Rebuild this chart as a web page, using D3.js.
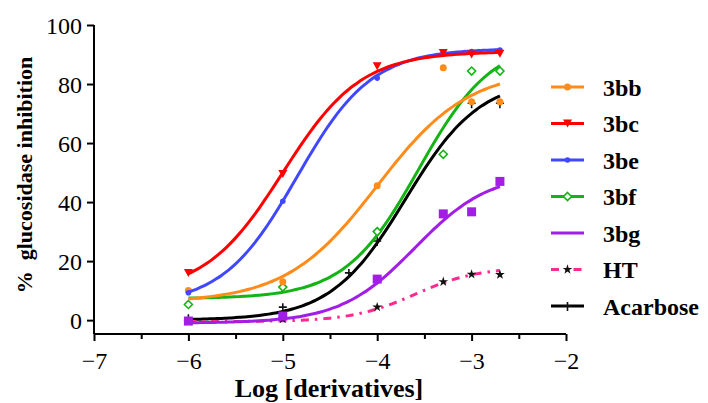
<!DOCTYPE html>
<html lang="en">
  <head>
    <meta charset="UTF-8" />
    <title>Glucosidase inhibition</title>
    <script src="https://d3js.org/d3.v7.min.js"></script>
    <style>
      body {
        margin: 0;
        background: white;
      }
      svg text {
        font-family: "Liberation Serif", "Times New Roman", serif;
        fill: #000;
      }
      .tick-label {
        font-size: 24px;
      }
      .title {
        font-size: 26px;
        font-weight: bold;
      }
      .y-title {
        font-size: 22px;
        font-weight: bold;
      }
      .legend-label {
        font-size: 24px;
        font-weight: bold;
      }
    </style>
  </head>
  <body>
    <svg id="chart" width="708" height="403"></svg>
    <script>
      // series names, in legend order
      const seriesNames = ["3bb", "3bc", "3be", "3bf", "3bg", "HT", "Acarbose"];
      const seriesColors = ["#ff8c1a", "#ff0000", "#4048ff", "#14b414", "#a21ee6", "#ff2a8f", "#000000"];

      // log concentration of the measured points
      const logConc = [-6, -5, -4, -3.3, -3, -2.7];
      const logConcAcarbose = [-6, -5, -4.3, -4, -3, -2.7];

      // measured % inhibition
      const val3bb = [10, 13, 45.5, 85.5, 74, 74];
      const val3bc = [16, 49.5, 86, 90.5, 90, 90.3];
      const val3be = [9.3, 40.3, 82, 90.5, 91, 91.5];
      const val3bf = [5.3, 11.2, 30, 56.2, 84.4, 84.4];
      const val3bg = [-0.3, 1.4, 13.9, 36, 36.7, 47];
      const valHT = [-0.5, 0.4, 4.4, 13, 15.5, 15.4];
      const valAcarbose = [0.6, 4.4, 16, 26.8, 73.5, 73.5];

      // fitted four-parameter logistic curves: bottom, top, logEC50, hill slope
      const fitBottom = [6, 9, 5, 7.3, -1, -0.5, 0];
      const fitTop = [85, 91, 92, 95, 50, 18, 82];
      const fitLogEC50 = [-4.0, -5.0, -4.85, -3.56, -3.6, -3.6, -3.7];
      const fitHill = [0.9, 1.05, 1.1, 1.11, 1.1, 1.3, 1.1];

      const yTicks = [0, 20, 40, 60, 80, 100];

      const pointValues = [val3bb, val3bc, val3be, val3bf, val3bg, valHT, valAcarbose];
      const markerShapes = ["circle", "triangle", "smallcircle", "diamond", "square", "star", "plus"];

      const svg = d3.select("#chart");
      const x = d3.scaleLinear().domain([-7, -2]).range([94, 566]);
      const y = d3.scaleLinear().domain([-4.7, 100]).range([334, 25]);

      // axes
      const xAxis = d3
        .axisBottom(x)
        .tickValues(d3.range(-7, -1.99, 0.5))
        .tickSize(7)
        .tickFormat((d) => (Number.isInteger(d) ? d3.format("")(d).replace("-", "\u2212") : ""));
      const gx = svg.append("g").attr("transform", `translate(0,${y.range()[0]})`).call(xAxis);
      gx.selectAll(".tick line")
        .attr("stroke-width", 2)
        .attr("y2", (d) => (Number.isInteger(d) ? 7 : 5));
      gx.select(".domain").attr("stroke-width", 2).attr("d", `M${x(-7)},0H${x(-2)}`);
      gx.selectAll(".tick text").attr("class", "tick-label").attr("font-size", null).attr("font-family", null).attr("dy", "1.05em");

      const yAxis = d3.axisLeft(y).tickValues(yTicks).tickSize(7).tickPadding(5);
      const gy = svg.append("g").attr("transform", `translate(${x.range()[0]},0)`).call(yAxis);
      gy.selectAll(".tick line").attr("stroke-width", 2);
      gy.select(".domain").attr("stroke-width", 2).attr("d", `M0,${y(100)}V${y.range()[0]}`);
      gy.selectAll(".tick text").attr("class", "tick-label").attr("font-size", null).attr("font-family", null).attr("dy", "0.36em");

      // axis titles
      svg
        .append("text")
        .attr("class", "y-title")
        .attr("text-anchor", "middle")
        .attr("transform", "translate(32,175) rotate(-90)")
        .text("%\u00a0 glucosidase inhibition");
      svg.append("text").attr("class", "title").attr("text-anchor", "middle").attr("x", 329).attr("y", 397).text("Log [derivatives]");

      // markers
      function drawMarker(g, shape, color, cx, cy) {
        if (shape === "circle") {
          g.append("circle").attr("cx", cx).attr("cy", cy).attr("r", 3.5).attr("fill", color);
        } else if (shape === "smallcircle") {
          g.append("circle").attr("cx", cx).attr("cy", cy).attr("r", 2.8).attr("fill", color);
        } else if (shape === "triangle") {
          g.append("path").attr("d", `M${cx - 4.5},${cy - 4}L${cx + 4.5},${cy - 4}L${cx},${cy + 4}Z`).attr("fill", color);
        } else if (shape === "diamond") {
          g.append("path")
            .attr("d", `M${cx},${cy - 4}L${cx + 4},${cy}L${cx},${cy + 4}L${cx - 4},${cy}Z`)
            .attr("fill", "white")
            .attr("stroke", color)
            .attr("stroke-width", 1.6);
        } else if (shape === "square") {
          g.append("rect").attr("x", cx - 4.5).attr("y", cy - 4.5).attr("width", 9).attr("height", 9).attr("fill", color);
        } else if (shape === "star") {
          g.append("path").attr("d", d3.symbol(d3.symbolStar, 30)()).attr("transform", `translate(${cx},${cy})`).attr("fill", "#111");
        } else if (shape === "plus") {
          g.append("path")
            .attr("d", `M${cx - 4},${cy}H${cx + 4}M${cx},${cy - 4}V${cy + 5}`)
            .attr("stroke", "#111")
            .attr("stroke-width", 1.6);
        }
      }

      const line = d3
        .line()
        .x((d) => x(d[0]))
        .y((d) => y(d[1]))
        .curve(d3.curveBasis);

      const drawOrder = [6, 5, 4, 3, 0, 2, 1];
      drawOrder.forEach((i) => {
        const g = svg.append("g");
        const xs = i === 6 ? logConcAcarbose : logConc;
        const fit = (lx) => fitBottom[i] + (fitTop[i] - fitBottom[i]) / (1 + Math.pow(10, (fitLogEC50[i] - lx) * fitHill[i]));
        const pts = d3.range(-6, -2.699, 0.05).map((lx) => [lx, fit(lx)]);
        pts.push([-2.7, fit(-2.7)]);
        g.append("path")
          .attr("d", line(pts))
          .attr("fill", "none")
          .attr("stroke", seriesColors[i])
          .attr("stroke-width", 3)
          .attr("stroke-dasharray", seriesNames[i] === "HT" ? "8,6,2.5,6" : null);
        pointValues[i].forEach((v, j) => drawMarker(g, markerShapes[i], seriesColors[i], x(xs[j]), y(v)));
      });

      // legend
      const legend = svg.append("g");
      seriesNames.forEach((name, i) => {
        const ly = 87 + i * 36.5;
        const row = legend.append("g");
        row.append("line")
          .attr("x1", 551)
          .attr("x2", 584)
          .attr("y1", ly)
          .attr("y2", ly)
          .attr("stroke", seriesColors[i])
          .attr("stroke-width", 3)
          .attr("stroke-dasharray", name === "HT" ? "8,6,2.5,6" : null);
        if (markerShapes[i] !== "square") {
          drawMarker(row, markerShapes[i], seriesColors[i], 567.5, ly);
        }
        row.append("text").attr("class", "legend-label").attr("x", 603).attr("y", ly).attr("dy", "0.36em").text(name);
      });
    </script>
  </body>
</html>
